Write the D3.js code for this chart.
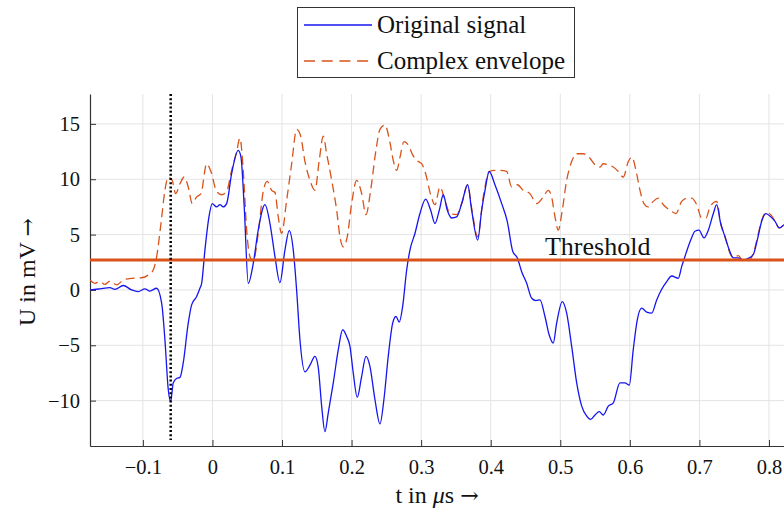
<!DOCTYPE html>
<html><head><meta charset="utf-8">
<script src="https://cdn.jsdelivr.net/npm/d3@7"></script>
<style>body{margin:0;background:#fff}svg{display:block}text{font-family:"Liberation Serif","DejaVu Serif",serif;fill:#111}</style>
</head><body>
<svg id="c" width="784" height="513"></svg>
<script>
// Original signal (t in µs, U in mV)
const sigT = [-0.1761,-0.1617,-0.1474,-0.1402,-0.1282,-0.1162,-0.1067,-0.0970,-0.0899,-0.0802,-0.0730,-0.0683,-0.0635,-0.0601,-0.0564,-0.0515,-0.0467,-0.0420,-0.0348,-0.0299,-0.0227,-0.0180,-0.0155,-0.0108,-0.0050,-0.0003,0.0060,0.0108,0.0155,0.0204,0.0276,0.0371,0.0410,0.0457,0.0515,0.0587,0.0658,0.0755,0.0827,0.0899,0.0970,0.1042,0.1104,0.1162,0.1210,0.1258,0.1330,0.1402,0.1474,0.1521,0.1570,0.1617,0.1665,0.1737,0.1809,0.1872,0.1929,0.1977,0.2024,0.2082,0.2145,0.2207,0.2264,0.2336,0.2408,0.2465,0.2527,0.2591,0.2638,0.2685,0.2734,0.2792,0.2839,0.2911,0.2983,0.3065,0.3137,0.3199,0.3261,0.3318,0.3376,0.3439,0.3511,0.3583,0.3669,0.3726,0.3813,0.3870,0.3918,0.3979,0.4061,0.4158,0.4238,0.4316,0.4382,0.4445,0.4517,0.4589,0.4651,0.4708,0.4780,0.4842,0.4899,0.4948,0.5029,0.5092,0.5164,0.5236,0.5308,0.5380,0.5437,0.5499,0.5561,0.5618,0.5690,0.5762,0.5858,0.5930,0.5992,0.6049,0.6107,0.6170,0.6242,0.6314,0.6386,0.6458,0.6530,0.6601,0.6696,0.6745,0.6807,0.6875,0.6936,0.6994,0.7066,0.7128,0.7200,0.7248,0.7306,0.7368,0.7430,0.7487,0.7559,0.7631,0.7703,0.7775,0.7832,0.7895,0.7957,0.8025,0.8087,0.8148,0.8216];
const sigU = [0.0,0.1,0.2,0.05,0.4,0.0,-0.15,0.1,-0.1,0.15,-1.2,-4.5,-9.0,-10.1,-8.4,-8.0,-7.9,-6.6,-3.0,-1.35,-0.6,0.15,0.6,3.6,6.6,7.8,7.5,7.7,7.5,7.8,10.5,12.6,12.0,7.5,0.6,2.4,5.4,7.7,6.0,3.0,0.66,3.6,5.35,3.6,0.0,-4.5,-7.4,-6.8,-6.0,-7.0,-10.5,-12.8,-11.1,-8.4,-5.4,-3.6,-4.2,-5.1,-7.5,-9.7,-7.8,-6.0,-6.9,-9.9,-12.1,-9.9,-6.0,-3.0,-2.4,-2.9,-1.5,1.8,3.6,5.1,6.9,8.2,7.2,6.0,7.2,8.6,7.2,6.5,6.6,7.8,9.5,7.2,4.5,7.2,9.0,10.7,9.5,7.8,6.2,3.5,2.9,1.65,0.6,-0.75,-0.96,-0.9,-2.4,-4.1,-4.8,-3.0,-1.05,-2.1,-5.1,-8.4,-10.5,-11.4,-11.7,-11.3,-11.0,-11.3,-10.5,-10.2,-8.4,-8.4,-8.6,-5.4,-2.7,-1.65,-2.0,-2.1,-0.9,0.06,0.75,1.26,1.05,2.1,3.3,4.5,5.3,5.4,4.7,5.4,6.9,7.7,6.0,4.8,3.6,2.9,2.9,2.7,2.85,3.2,4.5,6.2,6.9,6.6,6.2,5.6,5.9];
// Complex envelope
const envT = [-0.1761,-0.1689,-0.1617,-0.1546,-0.1474,-0.1377,-0.1282,-0.1162,-0.1018,-0.0923,-0.0851,-0.0802,-0.0740,-0.0683,-0.0635,-0.0578,-0.0529,-0.0467,-0.0405,-0.0348,-0.0290,-0.0227,-0.0165,-0.0083,-0.0022,0.0060,0.0132,0.0204,0.0276,0.0348,0.0395,0.0443,0.0492,0.0539,0.0587,0.0658,0.0730,0.0788,0.0851,0.0899,0.0946,0.0995,0.1067,0.1139,0.1210,0.1268,0.1330,0.1402,0.1474,0.1535,0.1593,0.1642,0.1714,0.1786,0.1833,0.1880,0.1938,0.2001,0.2073,0.2145,0.2207,0.2274,0.2350,0.2408,0.2480,0.2552,0.2599,0.2648,0.2696,0.2753,0.2815,0.2878,0.2936,0.3007,0.3065,0.3137,0.3199,0.3271,0.3342,0.3414,0.3511,0.3583,0.3669,0.3731,0.3813,0.3893,0.3979,0.4061,0.4133,0.4229,0.4301,0.4382,0.4468,0.4564,0.4661,0.4756,0.4827,0.4876,0.4924,0.4971,0.5024,0.5092,0.5164,0.5236,0.5331,0.5427,0.5499,0.5571,0.5618,0.5690,0.5762,0.5834,0.5906,0.5978,0.6031,0.6088,0.6146,0.6203,0.6265,0.6337,0.6409,0.6481,0.6577,0.6663,0.6745,0.6826,0.6889,0.6961,0.7033,0.7095,0.7152,0.7248,0.7306,0.7368,0.7440,0.7487,0.7559,0.7631,0.7703,0.7775,0.7847,0.7895,0.7957,0.8025,0.8087,0.8148,0.8216];
const envU = [0.9,0.6,0.75,0.5,0.8,0.45,0.9,1.05,1.1,1.35,1.8,3.0,6.0,9.0,10.2,9.9,8.7,9.6,10.2,9.3,7.8,8.4,8.7,11.4,10.7,8.9,8.6,8.9,10.8,12.5,13.7,10.8,5.4,3.0,2.6,5.1,8.9,9.8,9.0,8.8,6.6,5.1,8.1,11.4,14.5,13.9,11.6,9.9,9.0,11.7,13.9,12.3,9.9,7.2,4.8,3.9,4.8,7.8,9.9,8.7,6.8,9.0,12.6,14.5,14.9,13.3,11.7,10.8,12.0,13.4,13.1,12.2,11.7,11.4,10.5,8.6,7.7,9.3,8.1,6.9,6.8,7.8,9.5,7.2,4.8,8.4,10.7,10.8,10.8,10.7,9.3,9.5,9.0,8.7,7.8,8.4,9.0,8.4,6.6,5.4,7.0,9.9,11.6,12.3,12.3,11.9,11.3,11.1,11.4,11.3,11.1,10.7,10.2,11.6,12.0,10.8,9.0,7.8,7.5,8.0,8.3,7.7,7.2,6.9,8.0,8.3,8.3,7.7,6.5,6.5,7.5,8.0,6.0,4.8,3.3,2.9,3.1,2.6,2.65,3.3,5.1,6.3,7.0,6.8,6.2,5.6,5.9];
const xTicks = [-0.1,0,0.1,0.2,0.3,0.4,0.5,0.6,0.7,0.8];
const yTicks = [-10,-5,0,5,10,15];
const threshold = 2.7;
const triggerT = -0.060;
const xDomain = [-0.176, 0.8216];
const yDomain = [-14.1, 17.7];
const legendLabels = ["Original signal", "Complex envelope"];

const blue = "#1515f0", orange = "#D95319";
const L = 90, R = 784, T = 94, B = 446;
const svg = d3.select("#c");
const x = d3.scaleLinear().domain(xDomain).range([L, R]);
const y = d3.scaleLinear().domain(yDomain).range([B, T]);
const fmt = d => (d < 0 ? "\u2212" + Math.abs(d) : String(d));

svg.append("defs").append("clipPath").attr("id","clip").append("rect")
  .attr("x", L).attr("y", T).attr("width", R - L).attr("height", B - T);

// grid
const g = svg.append("g");
g.selectAll("line.vx").data(xTicks).join("line")
  .attr("x1", d => x(d)).attr("x2", d => x(d)).attr("y1", T).attr("y2", B)
  .attr("stroke", "#e3e3e3").attr("stroke-width", 1);
g.selectAll("line.hy").data(yTicks).join("line")
  .attr("x1", L).attr("x2", R).attr("y1", d => y(d)).attr("y2", d => y(d))
  .attr("stroke", "#e3e3e3").attr("stroke-width", 1);

// axes
const xAxis = svg.append("g").attr("transform", `translate(0,${B})`)
  .call(d3.axisBottom(x).tickValues(xTicks).tickFormat(fmt).tickSizeInner(-6).tickSizeOuter(0).tickPadding(13));
const yAxis = svg.append("g").attr("transform", `translate(${L},0)`)
  .call(d3.axisLeft(y).tickValues(yTicks).tickFormat(fmt).tickSizeInner(-6).tickSizeOuter(0).tickPadding(10));
[xAxis, yAxis].forEach(a => {
  a.select(".domain").attr("stroke", "#333").attr("stroke-width", 1.2);
  a.selectAll(".tick line").attr("stroke", "#333");
  a.selectAll(".tick text").attr("font-family", "Liberation Serif").attr("font-size", 20.5).attr("fill", "#222");
});

const plot = svg.append("g").attr("clip-path", "url(#clip)");
const line = d3.line().x(d => x(d[0])).y(d => y(d[1])).curve(d3.curveMonotoneX);

plot.append("path").datum(d3.zip(envT, envU)).attr("d", line)
  .attr("fill", "none").attr("stroke", orange).attr("stroke-width", 1.3).attr("stroke-dasharray", "9,5");
plot.append("path").datum(d3.zip(sigT, sigU)).attr("d", line)
  .attr("fill", "none").attr("stroke", blue).attr("stroke-width", 1.3);
plot.append("line").attr("x1", L).attr("x2", R).attr("y1", y(threshold)).attr("y2", y(threshold))
  .attr("stroke", orange).attr("stroke-width", 3);
plot.append("line").attr("x1", x(triggerT)).attr("x2", x(triggerT)).attr("y1", T).attr("y2", B - 6)
  .attr("stroke", "#000").attr("stroke-width", 2.5).attr("stroke-dasharray", "2,2.2");

svg.append("text").attr("x", x(0.478)).attr("y", y(3.15)).attr("font-size", 26).text("Threshold");

// axis labels
svg.append("text").attr("x", 437).attr("y", 503).attr("text-anchor", "middle").attr("font-size", 24)
  .html('t in <tspan font-style="italic">\u03bc</tspan>s <tspan font-family="DejaVu Serif" font-size="22">\u2192</tspan>');
svg.append("text").attr("transform", "translate(35,272) rotate(-90)").attr("text-anchor", "middle").attr("font-size", 24)
  .html('U in mV <tspan font-family="DejaVu Serif" font-size="22">\u2192</tspan>');

// legend
const lg = svg.append("g");
lg.append("rect").attr("x", 297.5).attr("y", 7.5).attr("width", 277).attr("height", 70)
  .attr("fill", "#fff").attr("stroke", "#333").attr("stroke-width", 1);
const rows = [{c: blue, dash: null}, {c: orange, dash: "11,6.7"}];
legendLabels.forEach((lab, i) => {
  const cy = 25 + i * 36;
  lg.append("line").attr("x1", 304).attr("x2", 372).attr("y1", cy).attr("y2", cy)
    .attr("stroke", rows[i].c).attr("stroke-width", 1.3).attr("stroke-dasharray", rows[i].dash);
  lg.append("text").attr("x", 377).attr("y", cy + 7.5).attr("font-size", 25).text(lab);
});
</script>
</body></html>
